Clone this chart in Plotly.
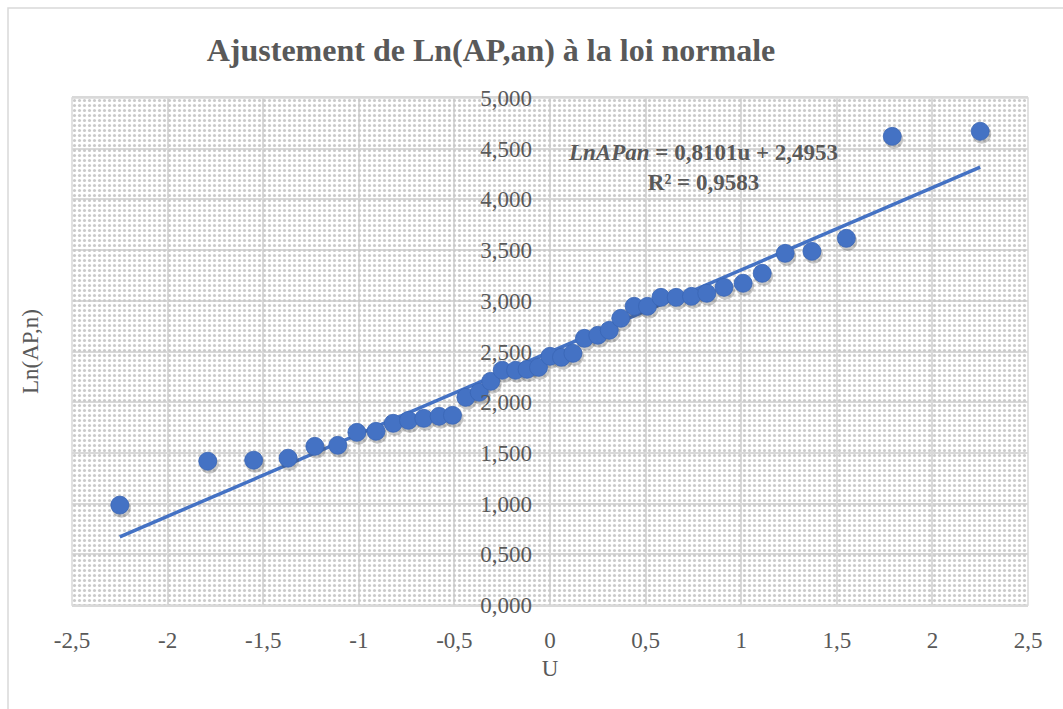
import plotly.graph_objects as go

# Data
u_values = [-2.25, -1.79, -1.55, -1.37, -1.23, -1.11, -1.01, -0.91, -0.82, -0.74,
            -0.66, -0.58, -0.51, -0.44, -0.37, -0.31, -0.25, -0.18, -0.12, -0.06,
            0.00, 0.06, 0.12, 0.18, 0.25, 0.31, 0.37, 0.44, 0.51, 0.58,
            0.66, 0.74, 0.82, 0.91, 1.01, 1.11, 1.23, 1.37, 1.55, 1.79, 2.25]
ln_ap = [0.985, 1.418, 1.428, 1.448, 1.565, 1.575, 1.703, 1.713, 1.792, 1.821,
         1.841, 1.861, 1.871, 2.048, 2.098, 2.206, 2.315, 2.315, 2.324, 2.344,
         2.453, 2.443, 2.482, 2.630, 2.660, 2.709, 2.827, 2.946, 2.946, 3.034,
         3.034, 3.044, 3.074, 3.133, 3.173, 3.271, 3.468, 3.488, 3.616, 4.622, 4.672]
slope = 0.8101
intercept = 2.4953
r2 = 0.9583

x_tickvals = [-2.5, -2, -1.5, -1, -0.5, 0, 0.5, 1, 1.5, 2, 2.5]
x_ticktext = ["-2,5", "-2", "-1,5", "-1", "-0,5", "0", "0,5", "1", "1,5", "2", "2,5"]
y_tickvals = [0, 0.5, 1, 1.5, 2, 2.5, 3, 3.5, 4, 4.5, 5]
y_ticktext = ["0,000", "0,500", "1,000", "1,500", "2,000", "2,500", "3,000",
              "3,500", "4,000", "4,500", "5,000"]

x_range = [-2.5, 2.5]
y_range = [0, 5]

BLUE = "#4472C4"
GRAY_TXT = "#595959"
GRID = "#d9d9d9"
FONT = "Liberation Serif"
TRANSP = "rgba(0,0,0,0)"

fig = go.Figure()

# dotted plot-area background pattern
fig.add_trace(go.Scatter(
    x=[x_range[0], x_range[1], x_range[1], x_range[0], x_range[0]],
    y=[y_range[0], y_range[0], y_range[1], y_range[1], y_range[0]],
    mode="lines", line=dict(width=0, color=TRANSP), fill="toself", fillcolor=TRANSP,
    fillpattern=dict(shape=".", size=5, solidity=0.3, fgcolor="#cacaca",
                     bgcolor=TRANSP, fillmode="replace"),
    hoverinfo="skip", showlegend=False,
))

# trend line
u_min, u_max = min(u_values), max(u_values)
fig.add_trace(go.Scatter(
    x=[u_min, u_max], y=[slope * u_min + intercept, slope * u_max + intercept],
    mode="lines", line=dict(color=BLUE, width=3.5),
    hoverinfo="skip", showlegend=False,
))

# marker shadows
fig.add_trace(go.Scatter(
    x=[u + 0.008 for u in u_values], y=[v - 0.03 for v in ln_ap],
    mode="markers", marker=dict(size=19, color="rgba(60,60,60,0.28)", line=dict(width=0)),
    hoverinfo="skip", showlegend=False,
))

# data points
fig.add_trace(go.Scatter(
    x=u_values, y=ln_ap, mode="markers",
    marker=dict(size=18, color=BLUE, line=dict(width=0.8, color="#3a66b5")),
    showlegend=False,
))

fig.update_layout(
    width=1063, height=709,
    margin=dict(l=72, r=35, t=98, b=104),
    paper_bgcolor="white", plot_bgcolor="white",
    font=dict(family=FONT, color=GRAY_TXT, size=23),
    title=dict(text="<b>Ajustement de Ln(AP,an) à la loi normale</b>",
               x=491 / 1063, xanchor="center", y=1 - 50 / 709, yanchor="middle",
               font=dict(family=FONT, size=32, color=GRAY_TXT)),
    xaxis=dict(range=x_range, tickvals=x_tickvals, ticktext=x_ticktext,
               showgrid=True, gridcolor=GRID, gridwidth=1.5,
               zeroline=False, showline=True, mirror=True, linecolor=GRID, linewidth=1.5,
               ticks="", ticklabelstandoff=14, tickfont=dict(size=23),
               title=dict(text="U", standoff=8, font=dict(size=23))),
    yaxis=dict(range=y_range, tickvals=y_tickvals, ticktext=y_ticktext,
               anchor="free", position=0.5, tickfont=dict(size=23),
               ticklabelstandoff=18,
               showgrid=True, gridcolor=GRID, gridwidth=1.5,
               zeroline=False, showline=False, ticks=""),
    shapes=[
        dict(type="rect", xref="paper", yref="paper", x0=0, x1=1, y0=0, y1=1,
             line=dict(color=GRID, width=1.5), layer="below"),
        dict(type="rect", xref="paper", yref="paper",
             x0=(8 - 72) / 956, x1=1.2, y0=-0.5, y1=(605 - 8) / 507,
             line=dict(color=GRID, width=1.5)),
    ],
    annotations=[
        dict(text="Ln(AP,n)", xref="paper", yref="paper",
             x=(30 - 72) / 956, y=(605 - 352) / 507, textangle=-90,
             xanchor="center", yanchor="middle",
             showarrow=False, font=dict(size=23, color=GRAY_TXT)),
        dict(text="<b><i>LnAPan</i> = 0,8101u + 2,4953</b><br><b>R² = 0,9583</b>",
             xref="paper", yref="paper", x=(703 - 72) / 956, y=(605 - 167) / 507,
             xanchor="center", yanchor="middle",
             showarrow=False, align="center",
             font=dict(size=23, color=GRAY_TXT)),
    ],
)

fig.write_html("out.html")
